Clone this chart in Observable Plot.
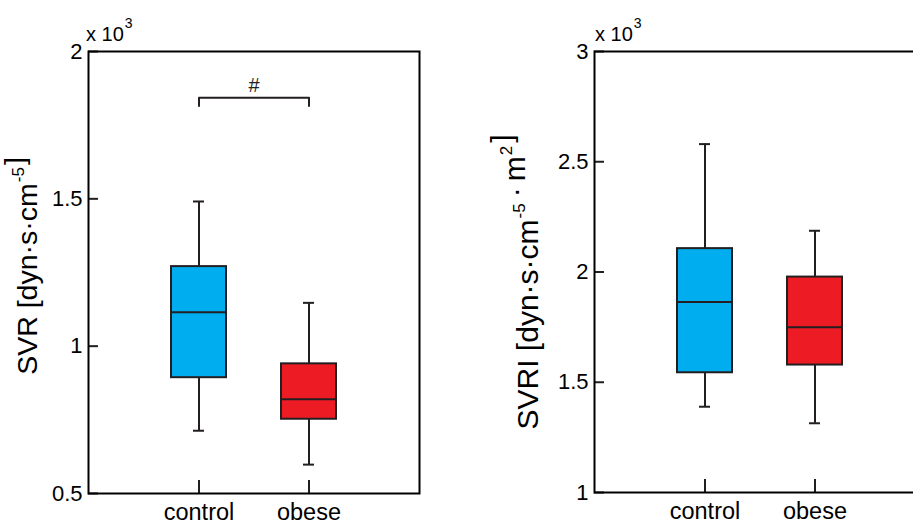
<!DOCTYPE html>
<html>
<head>
<meta charset="utf-8">
<script src="https://cdn.jsdelivr.net/npm/d3@7"></script>
<script src="https://cdn.jsdelivr.net/npm/@observablehq/plot@0.6"></script>
<style>
  html, body { margin: 0; padding: 0; background: #fff; }
  #wrap { position: relative; width: 913px; height: 522px; overflow: hidden; background: #fff; }
  #wrap svg { position: absolute; top: 0; }
</style>
</head>
<body>
<div id="wrap"></div>
<script>
// ---- data (values in units of 10^3) ----
const groups = ["control", "obese"];
const fills = ["#00aeef", "#ed1c24"];

const svrLo  = [0.713, 0.598];
const svrQ1  = [0.893, 0.752];
const svrMed = [1.115, 0.820];
const svrQ3  = [1.270, 0.940];
const svrHi  = [1.491, 1.147];
const svrTicks = [0.5, 1, 1.5, 2];

const svriLo  = [1.389, 1.314];
const svriQ1  = [1.543, 1.578];
const svriMed = [1.864, 1.750];
const svriQ3  = [2.106, 1.977];
const svriHi  = [2.580, 2.187];
const svriTicks = [1, 1.5, 2, 2.5, 3];

// significance bracket (SVR only)
const sigPair = ["control", "obese"];
const sigHigh = 1.843;
const sigLow = 1.815;
const sigLabel = "#";

const ink = "#231f20";
const font = "'Liberation Sans', Arial, Helvetica, sans-serif";

function rowsOf(lo, q1, med, q3, hi) {
  return groups.map((g, i) => ({group: g, lo: lo[i], q1: q1[i], med: med[i], q3: q3[i], hi: hi[i], fill: fills[i]}));
}

function panel(o) {
  const fw = o.width - o.marginLeft - o.marginRight;
  const fh = o.height - o.marginTop - o.marginBottom;
  const marks = [
    Plot.barY(o.rows, {x: "group", y1: "q1", y2: "q3", fill: "fill", stroke: ink, strokeWidth: 2}),
    Plot.tickY(o.rows, {x: "group", y: "med", stroke: ink, strokeWidth: 2}),
    Plot.ruleX(o.rows, {x: "group", y1: "q3", y2: "hi", stroke: ink, strokeWidth: 2}),
    Plot.ruleX(o.rows, {x: "group", y1: "lo", y2: "q1", stroke: ink, strokeWidth: 2}),
    Plot.tickY(o.rows, {x: "group", y: "hi", stroke: ink, strokeWidth: 2, insetLeft: 22, insetRight: 22}),
    Plot.tickY(o.rows, {x: "group", y: "lo", stroke: ink, strokeWidth: 2, insetLeft: 22, insetRight: 22}),
    // inward ticks
    Plot.tickX(groups, {x: d => d, stroke: ink, strokeWidth: 2, insetTop: fh - 13}),
    Plot.tickY(o.ticks, {y: d => d, stroke: ink, strokeWidth: 2, insetRight: fw - 10}),
    Plot.axisY({ticks: o.ticks, tickSize: 0, tickPadding: 6, fontSize: 22, tickFormat: d => String(d), label: null}),
    Plot.axisX({tickSize: 0, tickPadding: 10, fontSize: 23.5, label: null}),
    Plot.frame({stroke: "#000", strokeWidth: 2})
  ];
  if (o.sig) {
    const pts = [
      {x: sigPair[0], y: sigLow}, {x: sigPair[0], y: sigHigh},
      {x: sigPair[1], y: sigHigh}, {x: sigPair[1], y: sigLow}
    ];
    marks.push(Plot.line(pts, {x: "x", y: "y", stroke: ink, strokeWidth: 2}));
    marks.push(Plot.text([sigLabel], {text: d => d, frameAnchor: "top", lineAnchor: "middle", dy: 34, fontSize: 20, fill: ink}));
  }
  return Plot.plot({
    width: o.width, height: o.height,
    marginLeft: o.marginLeft, marginRight: o.marginRight,
    marginTop: o.marginTop, marginBottom: o.marginBottom,
    x: {type: "band", domain: groups, paddingInner: 0.5, paddingOuter: 0.75, axis: null},
    y: {domain: o.domain, axis: null},
    style: {fontFamily: font, color: "#000", background: "transparent", overflow: "visible"},
    marks
  });
}

function addLabels(svg, o) {
  const s = d3.select(svg);
  // exponent
  const ex = s.append("text").attr("x", o.expX).attr("y", 41)
    .attr("text-anchor", "start")
    .attr("font-family", font).attr("font-size", 20).attr("fill", "#000");
  ex.append("tspan").text("x 10");
  ex.append("tspan").attr("font-size", 14).attr("dx", 1).attr("dy", -13).text("3");
  // y label
  const t = s.append("text")
    .attr("transform", `translate(${o.labX},${o.labY}) rotate(-90)`)
    .attr("text-anchor", "middle")
    .attr("font-family", font).attr("font-size", o.size).attr("fill", "#000");
  o.label.forEach(part => {
    if (part.sup) {
      t.append("tspan").attr("font-size", 17).attr("dx", part.dx || 0).attr("dy", -13).text(part.sup);
      t.append("tspan").attr("dy", 13).text("");
    } else {
      t.append("tspan").attr("dx", part.dx || 0).text(part.t);
    }
  });
}

const wrap = document.getElementById("wrap");

const left = panel({
  width: 456, height: 522, marginLeft: 88, marginRight: 37, marginTop: 51, marginBottom: 29,
  domain: [0.5, 2], ticks: svrTicks, rows: rowsOf(svrLo, svrQ1, svrMed, svrQ3, svrHi), sig: true
});
left.style.left = "0px";
addLabels(left, {expX: 86, labX: 37, labY: 266, size: 28.5,
  label: [{t: "SVR [dyn·s·cm"}, {sup: "-5", dx: 1}, {t: "]", dx: 2}]});
wrap.appendChild(left);

const right = panel({
  width: 500, height: 522, marginLeft: 138, marginRight: 31, marginTop: 51, marginBottom: 30,
  domain: [1, 3], ticks: svriTicks, rows: rowsOf(svriLo, svriQ1, svriMed, svriQ3, svriHi), sig: false
});
right.style.left = "456px";
addLabels(right, {expX: 139, labX: 82, labY: 282, size: 30,
  label: [{t: "SVRI [dyn·s·cm"}, {sup: "-5", dx: 1}, {t: "·", dx: 6}, {t: "m", dx: 6}, {sup: "2", dx: 1}, {t: "]", dx: 3}]});
wrap.appendChild(right);
</script>
</body>
</html>
